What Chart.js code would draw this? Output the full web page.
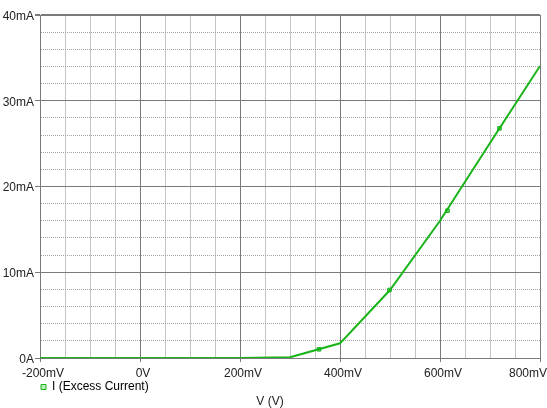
<!DOCTYPE html>
<html><head><meta charset="utf-8">
<script src="https://cdn.jsdelivr.net/npm/chart.js@4.4.0/dist/chart.umd.min.js"></script>
<style>html,body{margin:0;padding:0;background:#fff;}</style>
</head><body>
<canvas id="c" width="547" height="408"></canvas>
<script>
// ---- data ----
const voltage_mV = [-200, -100, 0, 100, 200, 300, 400, 500, 600, 700, 800];
const current_mA = [0, 0, 0, 0, 0, 0.08, 1.71, 7.93, 16.0, 25.07, 34.05];
const marker_mV = [358, 499, 615, 719];
const marker_mA = [1.01, 7.93, 17.18, 26.79];
const xTickValues = [-200, 0, 200, 400, 600, 800];
const xTickLabels = ['-200mV', '0V', '200mV', '400mV', '600mV', '800mV'];
const yTickValues = [0, 10, 20, 30, 40];
const yTickLabels = ['0A', '10mA', '20mA', '30mA', '40mA'];
const seriesName = 'I (Excess Current)';
const xTitle = 'V (V)';

// ---- styles ----
const FONT = '"Liberation Sans", Arial, sans-serif';
const TEXT = '#222';
const GREEN = '#18b418';
const MAJOR = '#7a7a7a';
const MINOR_V = '#c4c4c4';
const MINOR_H = '#a4a4a4';
const X_LABEL_OFFSET = 3;
const X_TICK_LEN = 4, X_TICK_PAD = 4;

const isXMajor = v => xTickValues.indexOf(v) >= 0;
const isYMajor = v => yTickValues.indexOf(v) >= 0;

const edgeLabel = {
  id: 'edgeLabel',
  afterDraw(chart) {
    const s = chart.scales.x;
    const i = xTickValues.length - 1;
    const text = xTickLabels[i];
    const ctx = chart.ctx;
    ctx.save();
    ctx.font = '12px ' + FONT;
    ctx.fillStyle = TEXT;
    ctx.textAlign = 'right';
    ctx.textBaseline = 'middle';
    const w = ctx.measureText(text).width;
    const px = s.getPixelForValue(xTickValues[i]) + X_LABEL_OFFSET;
    const x = Math.min(px + w / 2, chart.width);
    const y = s.top + X_TICK_LEN + X_TICK_PAD + 7.2;
    ctx.fillText(text, x, y);
    ctx.restore();
  }
};

new Chart(document.getElementById('c'), {
  type: 'scatter',
  data: {
    datasets: [
      {
        label: seriesName,
        data: voltage_mV.map((v, i) => ({x: v, y: current_mA[i]})),
        showLine: true,
        borderColor: GREEN,
        borderWidth: 2,
        pointRadius: 0,
        tension: 0
      },
      {
        label: 'markers',
        data: marker_mV.map((v, i) => ({x: v, y: marker_mA[i]})),
        showLine: false,
        pointStyle: 'rect',
        pointRadius: 2.5,
        backgroundColor: '#6fd06f',
        borderColor: GREEN,
        borderWidth: 1
      }
    ]
  },
  options: {
    responsive: false,
    animation: false,
    devicePixelRatio: 1,
    layout: {padding: {left: 0, right: 7, top: 15, bottom: 0}},
    plugins: {
      tooltip: {enabled: false},
      legend: {
        position: 'bottom',
        align: 'start',
        fullSize: false,
        labels: {
          padding: 1,
          boxWidth: 5,
          boxHeight: 5,
          color: TEXT,
          font: {family: FONT, size: 12},
          generateLabels: () => [{
            text: seriesName, fillStyle: '#bdebbd', strokeStyle: GREEN,
            lineWidth: 1, datasetIndex: 0, hidden: false
          }]
        }
      },
      title: {
        display: true,
        position: 'bottom',
        text: xTitle,
        color: TEXT,
        font: {family: FONT, size: 12, weight: 'normal'},
        padding: {top: -8.5, bottom: -0.9}
      }
    },
    scales: {
      x: {
        type: 'linear',
        min: -200, max: 800,
        afterFit: s => { s.height = 22; s.paddingLeft = 0; s.paddingRight = 0; },
        ticks: {
          stepSize: 50, maxTicksLimit: 100, autoSkip: false, maxRotation: 0,
          padding: X_TICK_PAD, labelOffset: X_LABEL_OFFSET,
          color: TEXT, font: {family: FONT, size: 12},
          callback: v => {
            const i = xTickValues.indexOf(v);
            return (i >= 0 && i < xTickValues.length - 1) ? xTickLabels[i] : '';
          }
        },
        grid: {
          color: c => (c.tick && isXMajor(c.tick.value)) ? MAJOR : MINOR_V,
          lineWidth: 1,
          tickLength: X_TICK_LEN,
          tickColor: c => (c.tick && isXMajor(c.tick.value)) ? MAJOR : 'rgba(0,0,0,0)'
        },
        border: {display: true, color: MAJOR, width: 1}
      },
      y: {
        type: 'linear',
        min: 0, max: 40,
        afterFit: s => { s.width = 40; },
        ticks: {
          stepSize: 2, maxTicksLimit: 100, autoSkip: false,
          padding: 1, labelOffset: 1.5,
          color: TEXT, font: {family: FONT, size: 12},
          callback: v => {
            const i = yTickValues.indexOf(v);
            return i >= 0 ? yTickLabels[i] : '';
          }
        },
        grid: {
          color: c => (c.tick && isYMajor(c.tick.value)) ? MAJOR : MINOR_H,
          lineWidth: c => (c.tick && c.tick.value === 40) ? 2 : 1,
          tickLength: 5,
          tickColor: c => (c.tick && isYMajor(c.tick.value)) ? MAJOR : 'rgba(0,0,0,0)'
        },
        border: {
          display: true, color: MAJOR, width: 1,
          dash: c => (c.tick && !isYMajor(c.tick.value)) ? [1, 1] : []
        }
      }
    }
  },
  plugins: [edgeLabel]
});
</script>
</body></html>
